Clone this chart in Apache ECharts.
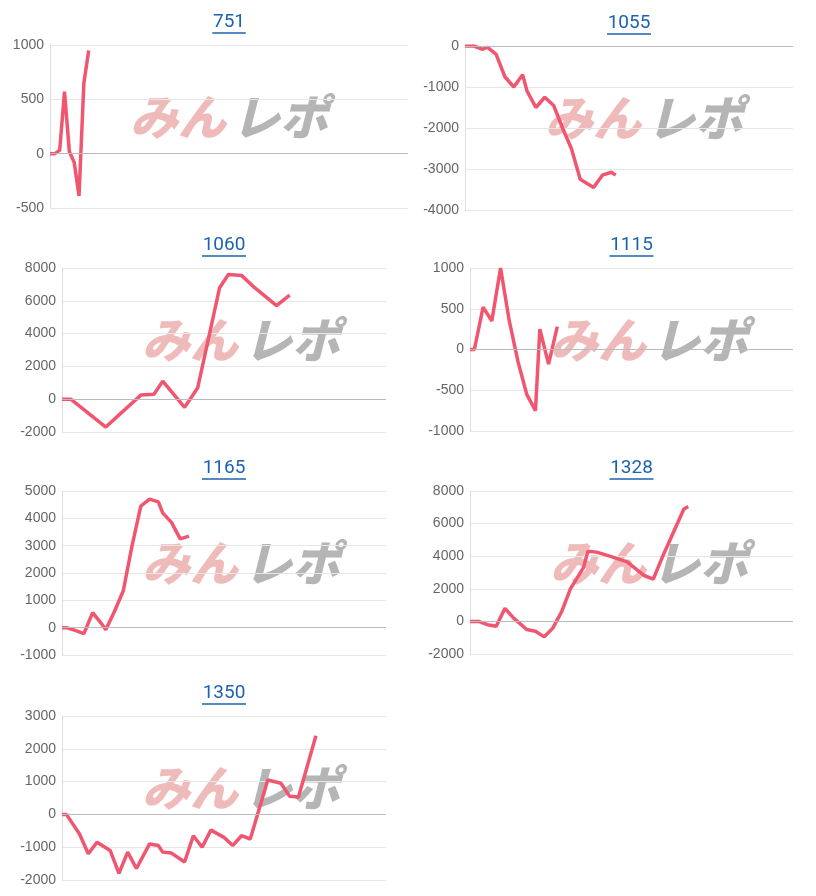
<!DOCTYPE html>
<html><head><meta charset="utf-8">
<script src="https://cdn.jsdelivr.net/npm/echarts@6/dist/echarts.min.js"></script>
<style>html,body{margin:0;padding:0;background:#fff}#c{width:816px;height:896px}</style>
</head><body><div id="c"></div>
<script>
const titles = ['751','1055','1060','1115','1165','1328','1350'];
const s751 = [[0,0],[1,0],[2,30],[3,570],[4,20],[5,-80],[6,-390],[7,650],[8,950]];
const s1055 = [[0,0],[2,0],[4,-80],[5,-30],[7,-200],[9,-750],[11,-1000],[13,-700],[14,-1100],[16,-1500],[18,-1250],[20,-1450],[22,-2000],[24,-2500],[26,-3250],[29,-3450],[31,-3150],[33,-3080],[34,-3150]];
const s1060 = [[0,0],[2,0],[10,-1700],[18,250],[21,300],[23,1100],[28,-500],[31,700],[36,6800],[38,7600],[41,7550],[44,6800],[49,5700],[52,6350]];
const s1115 = [[0,0],[1,0],[3,520],[5,350],[7,1000],[9,350],[11,-150],[13,-550],[15,-750],[16,250],[18,-180],[20,280]];
const s1165 = [[0,0],[1,0],[3,-100],[5,-220],[7,550],[9,150],[10,-80],[12,600],[14,1350],[16,3000],[18,4450],[20,4700],[22,4600],[23,4200],[25,3850],[27,3250],[29,3350]];
const s1328 = [[0,0],[2,0],[4,-200],[6,-300],[8,800],[10,200],[13,-500],[15,-600],[17,-950],[19,-400],[21,600],[23,2000],[26,3300],[27,4300],[29,4250],[32,4000],[36,3650],[40,2800],[42,2600],[44,3900],[46,5100],[49,6900],[50,7050]];
const s1350 = [[0,0],[1,0],[4,-600],[6,-1200],[8,-850],[11,-1100],[13,-1800],[15,-1150],[17,-1650],[20,-900],[22,-950],[23,-1150],[25,-1180],[28,-1450],[30,-650],[32,-1000],[34,-480],[37,-700],[39,-950],[41,-650],[43,-750],[45,150],[47,1050],[50,950],[52,550],[54,530],[58,2400]];
const seriesData = [s751,s1055,s1060,s1115,s1165,s1328,s1350];
const yMin = [-500,-4000,-2000,-1000,-1000,-2000,-2000];
const yMax = [1000,0,8000,1000,5000,8000,3000];
const yStep = [500,1000,2000,500,1000,2000,1000];

const boxes = [[50,408,45,163],[465,793,46,164],[62,386,268,164],[470,793,268,163],[62,386,491,164],[470,793,491,163],[62,386,716,164]];
const grids=[],xs=[],ys=[],ser=[],gfx=[];
boxes.forEach((b,i)=>{
  const [l,r,t,h]=b;
  grids.push({left:l,top:t,width:r-l,height:h});
  xs.push({type:'value',gridIndex:i,min:0,max:74,show:false});
  ys.push({type:'value',gridIndex:i,min:yMin[i],max:yMax[i],interval:yStep[i],
    axisLine:{show:true,lineStyle:{color:'#ddd'}},axisTick:{show:false},
    axisLabel:{color:'#666',fontSize:14,fontFamily:'Liberation Sans',margin:6,formatter:v=>String(v)},
    splitLine:{lineStyle:{color:'#e6e6e6'}}});
  ser.push({type:'line',xAxisIndex:i,yAxisIndex:i,data:seriesData[i],symbol:'none',
    lineStyle:{color:'#f0566f',width:3.5},
    markLine:{silent:true,symbol:'none',label:{show:false},lineStyle:{color:'#bbb',type:'solid',width:1},data:[{yAxis:0}]}});
  const cx=(l+r)/2;
  const ty=t-23;
  gfx.push({type:'text',x:cx,y:ty,style:{text:titles[i],fill:'#1d62b0',font:'19px Roboto',align:'center',verticalAlign:'middle'}});
  const tw=titles[i].length*10.5;
  gfx.push({type:'line',shape:{x1:cx-tw/2-1,y1:ty+11,x2:cx+tw/2+1,y2:ty+11},style:{stroke:'#1d62b0',lineWidth:1.5}});
  const wy=t+h/2-10;
  gfx.push({type:'text',x:l+80,y:wy,style:{text:'みん',fill:'rgba(226,130,130,0.55)',font:'italic 900 48px "Noto Sans CJK JP"',verticalAlign:'middle'},z:-1});
  gfx.push({type:'text',x:l+182,y:wy,style:{text:'レポ',fill:'rgba(150,150,150,0.7)',font:'italic 900 48px "Noto Sans CJK JP"',verticalAlign:'middle'},z:-1});
});
const chart=echarts.init(document.getElementById('c'));
chart.setOption({animation:false,grid:grids,xAxis:xs,yAxis:ys,series:ser,graphic:gfx});
</script></body></html>
